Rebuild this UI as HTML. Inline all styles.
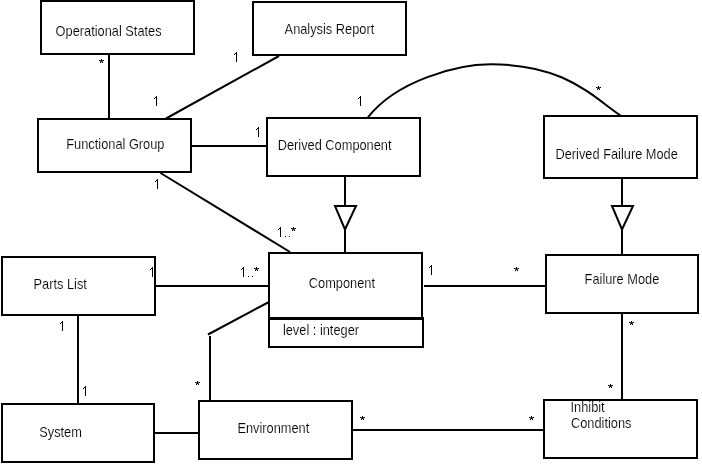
<!DOCTYPE html>
<html><head><meta charset="utf-8"><style>
html,body{margin:0;padding:0;background:#fff;width:702px;height:464px;overflow:hidden;position:relative}
text{font-family:"Liberation Sans",sans-serif}
svg{will-change:transform}
</style></head><body>
<svg width="702" height="464" style="position:absolute;left:0;top:0">
<g fill="#000" shape-rendering="crispEdges"><rect x="40" y="0" width="155" height="2"/><rect x="40" y="53" width="155" height="2"/><rect x="40" y="0" width="2" height="55"/><rect x="193" y="0" width="2" height="55"/><rect x="252" y="1" width="155" height="2"/><rect x="252" y="54" width="155" height="2"/><rect x="252" y="1" width="2" height="55"/><rect x="405" y="1" width="2" height="55"/><rect x="37" y="118" width="155" height="2"/><rect x="37" y="171" width="155" height="2"/><rect x="37" y="118" width="2" height="55"/><rect x="190" y="118" width="2" height="55"/><rect x="266" y="117" width="155" height="2"/><rect x="266" y="175" width="155" height="2"/><rect x="266" y="117" width="2" height="60"/><rect x="419" y="117" width="2" height="60"/><rect x="543" y="115" width="155" height="2"/><rect x="543" y="177" width="155" height="2"/><rect x="543" y="115" width="2" height="64"/><rect x="696" y="115" width="2" height="64"/><rect x="1" y="256" width="155" height="2"/><rect x="1" y="314" width="155" height="2"/><rect x="1" y="256" width="2" height="60"/><rect x="154" y="256" width="2" height="60"/><rect x="545" y="254" width="154" height="2"/><rect x="545" y="312" width="154" height="2"/><rect x="545" y="254" width="2" height="60"/><rect x="697" y="254" width="2" height="60"/><rect x="1" y="403" width="154" height="2"/><rect x="1" y="461" width="154" height="2"/><rect x="1" y="403" width="2" height="60"/><rect x="153" y="403" width="2" height="60"/><rect x="198" y="400" width="155" height="2"/><rect x="198" y="458" width="155" height="2"/><rect x="198" y="400" width="2" height="60"/><rect x="351" y="400" width="2" height="60"/><rect x="543" y="399" width="155" height="2"/><rect x="543" y="457" width="155" height="2"/><rect x="543" y="399" width="2" height="60"/><rect x="696" y="399" width="2" height="60"/><rect x="268" y="252" width="155" height="2"/><rect x="268" y="318" width="155" height="2"/><rect x="268" y="252" width="2" height="68"/><rect x="421" y="252" width="2" height="68"/><rect x="268" y="317" width="3" height="3"/><rect x="268" y="317" width="156" height="2"/><rect x="268" y="346" width="156" height="2"/><rect x="268" y="317" width="2" height="31"/><rect x="422" y="317" width="2" height="31"/><rect x="268" y="317" width="156" height="3"/><rect x="236" y="52" width="1" height="10"/><rect x="235" y="53" width="1" height="1"/><rect x="234" y="54" width="1" height="1"/><rect x="156" y="96" width="1" height="10"/><rect x="155" y="97" width="1" height="1"/><rect x="154" y="98" width="1" height="1"/><rect x="360" y="96" width="1" height="10"/><rect x="359" y="97" width="1" height="1"/><rect x="358" y="98" width="1" height="1"/><rect x="258" y="127" width="1" height="10"/><rect x="257" y="128" width="1" height="1"/><rect x="256" y="129" width="1" height="1"/><rect x="157" y="179" width="1" height="10"/><rect x="156" y="180" width="1" height="1"/><rect x="155" y="181" width="1" height="1"/><rect x="280" y="227" width="1" height="10"/><rect x="279" y="228" width="1" height="1"/><rect x="278" y="229" width="1" height="1"/><rect x="152" y="267" width="1" height="10"/><rect x="151" y="268" width="1" height="1"/><rect x="150" y="269" width="1" height="1"/><rect x="243" y="267" width="1" height="10"/><rect x="242" y="268" width="1" height="1"/><rect x="241" y="269" width="1" height="1"/><rect x="431" y="265" width="1" height="10"/><rect x="430" y="266" width="1" height="1"/><rect x="429" y="267" width="1" height="1"/><rect x="62" y="321" width="1" height="10"/><rect x="61" y="322" width="1" height="1"/><rect x="60" y="323" width="1" height="1"/><rect x="85" y="386" width="1" height="10"/><rect x="84" y="387" width="1" height="1"/><rect x="83" y="388" width="1" height="1"/><rect x="285" y="236" width="1" height="1"/><rect x="289" y="236" width="1" height="1"/><rect x="248" y="276" width="1" height="1"/><rect x="252" y="276" width="1" height="1"/><rect x="101" y="59" width="1" height="1"/><rect x="99" y="60" width="1" height="1"/><rect x="101" y="60" width="1" height="1"/><rect x="103" y="60" width="1" height="1"/><rect x="101" y="61" width="1" height="1"/><rect x="100" y="62" width="1" height="1"/><rect x="102" y="62" width="1" height="1"/><rect x="598" y="86" width="1" height="1"/><rect x="596" y="87" width="1" height="1"/><rect x="598" y="87" width="1" height="1"/><rect x="600" y="87" width="1" height="1"/><rect x="598" y="88" width="1" height="1"/><rect x="597" y="89" width="1" height="1"/><rect x="599" y="89" width="1" height="1"/><rect x="516" y="267" width="1" height="1"/><rect x="514" y="268" width="1" height="1"/><rect x="516" y="268" width="1" height="1"/><rect x="518" y="268" width="1" height="1"/><rect x="516" y="269" width="1" height="1"/><rect x="515" y="270" width="1" height="1"/><rect x="517" y="270" width="1" height="1"/><rect x="631" y="321" width="1" height="1"/><rect x="629" y="322" width="1" height="1"/><rect x="631" y="322" width="1" height="1"/><rect x="633" y="322" width="1" height="1"/><rect x="631" y="323" width="1" height="1"/><rect x="630" y="324" width="1" height="1"/><rect x="632" y="324" width="1" height="1"/><rect x="197" y="381" width="1" height="1"/><rect x="195" y="382" width="1" height="1"/><rect x="197" y="382" width="1" height="1"/><rect x="199" y="382" width="1" height="1"/><rect x="197" y="383" width="1" height="1"/><rect x="196" y="384" width="1" height="1"/><rect x="198" y="384" width="1" height="1"/><rect x="362" y="416" width="1" height="1"/><rect x="360" y="417" width="1" height="1"/><rect x="362" y="417" width="1" height="1"/><rect x="364" y="417" width="1" height="1"/><rect x="362" y="418" width="1" height="1"/><rect x="361" y="419" width="1" height="1"/><rect x="363" y="419" width="1" height="1"/><rect x="531" y="416" width="1" height="1"/><rect x="529" y="417" width="1" height="1"/><rect x="531" y="417" width="1" height="1"/><rect x="533" y="417" width="1" height="1"/><rect x="531" y="418" width="1" height="1"/><rect x="530" y="419" width="1" height="1"/><rect x="532" y="419" width="1" height="1"/><rect x="610" y="384" width="1" height="1"/><rect x="608" y="385" width="1" height="1"/><rect x="610" y="385" width="1" height="1"/><rect x="612" y="385" width="1" height="1"/><rect x="610" y="386" width="1" height="1"/><rect x="609" y="387" width="1" height="1"/><rect x="611" y="387" width="1" height="1"/><rect x="293" y="227" width="1" height="1"/><rect x="291" y="228" width="1" height="1"/><rect x="293" y="228" width="1" height="1"/><rect x="295" y="228" width="1" height="1"/><rect x="293" y="229" width="1" height="1"/><rect x="292" y="230" width="1" height="1"/><rect x="294" y="230" width="1" height="1"/><rect x="256" y="267" width="1" height="1"/><rect x="254" y="268" width="1" height="1"/><rect x="256" y="268" width="1" height="1"/><rect x="258" y="268" width="1" height="1"/><rect x="256" y="269" width="1" height="1"/><rect x="255" y="270" width="1" height="1"/><rect x="257" y="270" width="1" height="1"/><rect x="108" y="55" width="2" height="63"/><rect x="192" y="145" width="74" height="2"/><rect x="344" y="177" width="2" height="29"/><rect x="344" y="229" width="2" height="23"/><rect x="621" y="179" width="2" height="27"/><rect x="621" y="229" width="2" height="25"/><rect x="156" y="285" width="112" height="2"/><rect x="424" y="285" width="121" height="2"/><rect x="77" y="316" width="2" height="87"/><rect x="155" y="432" width="43" height="2"/><rect x="209" y="336" width="2" height="64"/><rect x="353" y="429" width="190" height="2"/><rect x="621" y="314" width="2" height="85"/></g>
<g fill="#555" shape-rendering="crispEdges"><rect x="100" y="60" width="1" height="1"/><rect x="102" y="60" width="1" height="1"/><rect x="100" y="61" width="1" height="1"/><rect x="102" y="61" width="1" height="1"/><rect x="597" y="87" width="1" height="1"/><rect x="599" y="87" width="1" height="1"/><rect x="597" y="88" width="1" height="1"/><rect x="599" y="88" width="1" height="1"/><rect x="515" y="268" width="1" height="1"/><rect x="517" y="268" width="1" height="1"/><rect x="515" y="269" width="1" height="1"/><rect x="517" y="269" width="1" height="1"/><rect x="630" y="322" width="1" height="1"/><rect x="632" y="322" width="1" height="1"/><rect x="630" y="323" width="1" height="1"/><rect x="632" y="323" width="1" height="1"/><rect x="196" y="382" width="1" height="1"/><rect x="198" y="382" width="1" height="1"/><rect x="196" y="383" width="1" height="1"/><rect x="198" y="383" width="1" height="1"/><rect x="361" y="417" width="1" height="1"/><rect x="363" y="417" width="1" height="1"/><rect x="361" y="418" width="1" height="1"/><rect x="363" y="418" width="1" height="1"/><rect x="530" y="417" width="1" height="1"/><rect x="532" y="417" width="1" height="1"/><rect x="530" y="418" width="1" height="1"/><rect x="532" y="418" width="1" height="1"/><rect x="609" y="385" width="1" height="1"/><rect x="611" y="385" width="1" height="1"/><rect x="609" y="386" width="1" height="1"/><rect x="611" y="386" width="1" height="1"/><rect x="292" y="228" width="1" height="1"/><rect x="294" y="228" width="1" height="1"/><rect x="292" y="229" width="1" height="1"/><rect x="294" y="229" width="1" height="1"/><rect x="255" y="268" width="1" height="1"/><rect x="257" y="268" width="1" height="1"/><rect x="255" y="269" width="1" height="1"/><rect x="257" y="269" width="1" height="1"/></g>
<g stroke="#000" stroke-width="2" fill="none">
<line x1="279" y1="56" x2="166" y2="118.5"/>
<line x1="160.5" y1="173" x2="290" y2="252"/>
<line x1="269" y1="302" x2="208" y2="334.5"/>
<path d="M367.8 117.5 C396.3 80.6 457.4 64.3 490.7 64.3 C563.7 64.3 590.4 94.7 620.4 115.5"/>
<path d="M335 206 L356 206 L345 229.5 Z"/>
<path d="M612 206 L633 206 L622 229.5 Z"/>
</g>
<g font-family="Liberation Sans, sans-serif" font-size="14.0" fill="#000" stroke="#fff" stroke-width="0.15">
<text transform="translate(55.6 35.5) scale(0.915 1)">Operational States</text><text transform="translate(284.6 33.5) scale(0.915 1)">Analysis Report</text><text transform="translate(66.3 149) scale(0.915 1)">Functional Group</text><text transform="translate(277.7 149.8) scale(0.915 1)">Derived Component</text><text transform="translate(555.5 158.8) scale(0.915 1)">Derived Failure Mode</text><text transform="translate(308.8 288) scale(0.915 1)">Component</text><text transform="translate(282.9 335) scale(0.915 1)">level : integer</text><text transform="translate(33.5 289) scale(0.915 1)">Parts List</text><text transform="translate(584.6 283.6) scale(0.915 1)">Failure Mode</text><text transform="translate(39.2 437) scale(0.915 1)">System</text><text transform="translate(237.4 432.5) scale(0.915 1)">Environment</text><text transform="translate(570.5 411.7) scale(0.915 1)">Inhibit</text><text transform="translate(571 427.6) scale(0.915 1)">Conditions</text>
</g>
</svg>
</body></html>
